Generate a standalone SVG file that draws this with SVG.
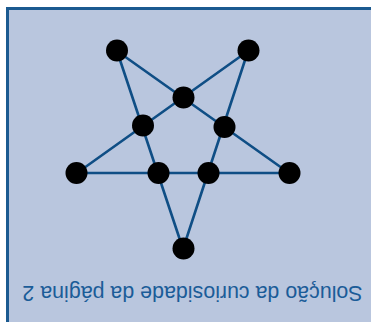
<svg xmlns="http://www.w3.org/2000/svg" width="371" height="322" viewBox="0 0 371 322">
<style>
.edge{stroke:#0f4e85;stroke-width:2.6;fill:none;stroke-linecap:round}
.dot{fill:#000}
.label{font-family:"Liberation Sans",Arial,sans-serif;font-size:21.4px;fill:#1b5c98}
</style>
<rect x="0" y="0" width="371" height="322" fill="#ffffff"/>
<rect id="frame" x="7.5" y="8.5" width="380" height="330" fill="#b9c6de" stroke="#1b5a90" stroke-width="3"/>
<g id="connectors">
<line class="edge" x1="117" y1="51" x2="183" y2="249"/>
<line class="edge" x1="117" y1="51" x2="289" y2="173"/>
<line class="edge" x1="248" y1="51" x2="77" y2="173"/>
<line class="edge" x1="248" y1="51" x2="183" y2="249"/>
<line class="edge" x1="77" y1="173" x2="289" y2="173"/>
</g>
<g id="n1"><circle class="dot" cx="117" cy="50.5" r="11"/></g>
<g id="n2"><circle class="dot" cx="248.5" cy="50.5" r="11"/></g>
<g id="n3"><circle class="dot" cx="76.5" cy="173" r="11"/></g>
<g id="n4"><circle class="dot" cx="289.5" cy="173" r="11"/></g>
<g id="n5"><circle class="dot" cx="183.5" cy="248.5" r="11"/></g>
<g id="n6"><circle class="dot" cx="183.5" cy="97.5" r="11"/></g>
<g id="n7"><circle class="dot" cx="143" cy="125.5" r="11"/></g>
<g id="n8"><circle class="dot" cx="224.5" cy="127" r="11"/></g>
<g id="n9"><circle class="dot" cx="158.5" cy="173" r="11"/></g>
<g id="n10"><circle class="dot" cx="208.5" cy="173" r="11"/></g>
<text class="label" x="192.5" y="286" text-anchor="middle" transform="rotate(180 192.5 286)">Solução da curiosidade da página 2</text>
</svg>
